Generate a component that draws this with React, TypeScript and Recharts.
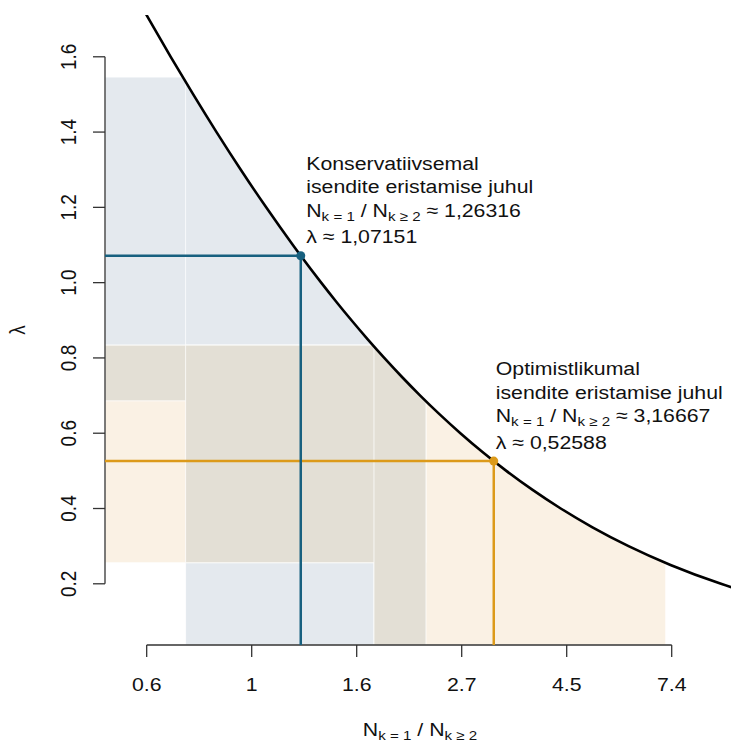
import {
  ComposedChart,
  Line,
  Area,
  XAxis,
  YAxis,
  ReferenceArea,
  ReferenceLine,
  ReferenceDot,
} from 'recharts';

// curve: lambda vs N(k=1)/N(k>=2)
const ratioValues = [
  0.5824, 0.6129, 0.68, 0.7569, 0.8458, 0.9494, 1.0713, 1.2166, 1.3922, 1.4944,
  1.6083, 1.7359, 1.88, 2.0436, 2.2311, 2.4478, 2.7013, 3.0013, 3.362, 3.8035,
  4.3561, 5.0675, 6.017, 7.3475, 9.3445, 10.455,
];
const lambdaValues = [
  1.75, 1.7, 1.6, 1.5, 1.4, 1.3, 1.2, 1.1, 1.0, 0.95,
  0.9, 0.85, 0.8, 0.75, 0.7, 0.65, 0.6, 0.55, 0.5, 0.45,
  0.4, 0.35, 0.3, 0.25, 0.2, 0.18,
];

// the two scenarios
const scenarioNames = ['Konservatiivsemal', 'Optimistlikumal'];
const scenarioRatios = [1.26316, 3.16667];
const scenarioLambdas = [1.07151, 0.52588];
const ratioLow = [0.73, 1.79];
const ratioHigh = [2.293, 7.18];
const lambdaLow = [0.686, 0.256];
const lambdaHigh = [1.546, 0.834];
const lineColors = ['#17607f', '#dc9a1a'];
const bandColors = ['#e4e9ee', '#faf1e4'];
const overlapColor = '#e3dfd5';

// axes
const xTickValues = [0.6065, 1, 1.6487, 2.7183, 4.4817, 7.3891];
const xTickLabels = ['0.6', '1', '1.6', '2.7', '4.5', '7.4'];
const yTickValues = [0.2, 0.4, 0.6, 0.8, 1.0, 1.2, 1.4, 1.6];
const yTickLabels = ['0.2', '0.4', '0.6', '0.8', '1.0', '1.2', '1.4', '1.6'];

const xMin = 0.4973;
const xMax = 9.8;
const yMin = 0.0374;
const yMax = 1.711;

const FONT = '"Liberation Sans", Arial, Helvetica, sans-serif';
const FS = 19;
const SUB = 13.5;
const SX = 1.12;
const AXIS = '#333';

const curveData = ratioValues.map((r, i) => ({ ratio: r, lambda: lambdaValues[i] }));

const fmt = (v: number) => v.toFixed(5).replace('.', ',');

const XTick = (props: any) => {
  const { x, y, payload } = props;
  const i = xTickValues.indexOf(payload.value);
  return (
    <g transform={`translate(${x},${y + 33.5}) scale(${SX},1)`}>
      <text x={0} y={0} textAnchor="middle" fontSize={FS} fontFamily={FONT} fill="#111">
        {xTickLabels[i]}
      </text>
    </g>
  );
};

const YTick = (props: any) => {
  const { x, y, payload } = props;
  const i = yTickValues.indexOf(payload.value);
  return (
    <g transform={`translate(${x - 17},${y}) scale(${SX},1) rotate(-90)`}>
      <text x={0} y={0} textAnchor="middle" fontSize={FS} fontFamily={FONT} fill="#111">
        {yTickLabels[i]}
      </text>
    </g>
  );
};

const XTitle = (props: any) => {
  const vb = props.viewBox;
  const cx = vb.x + vb.width / 2;
  return (
    <g transform={`translate(${cx + 2},${vb.y + 91}) scale(${SX},1)`}>
      <text x={0} y={0} textAnchor="middle" fontSize={FS} fontFamily={FONT} fill="#111">
        <tspan>N</tspan>
        <tspan fontSize={SUB} dy={4}>k = 1</tspan>
        <tspan dy={-4}> / N</tspan>
        <tspan fontSize={SUB} dy={4}>k ≥ 2</tspan>
      </text>
    </g>
  );
};

const YTitle = (props: any) => {
  const vb = props.viewBox;
  const cy = vb.y + vb.height / 2;
  return (
    <g transform={`translate(25,${cy}) scale(${SX},1) rotate(-90)`}>
      <text x={0} y={0} textAnchor="middle" fontSize={FS} fontFamily={FONT} fill="#111">
        λ
      </text>
    </g>
  );
};

const lineOffsets = [-86, -62.5, -39, -12.5];
const textDx = [5.5, 2];

const Annotation = (props: any) => {
  const { viewBox, index } = props;
  const cx = viewBox.x + viewBox.width / 2;
  const cy = viewBox.y + viewBox.height / 2;
  const left = cx + textDx[index];
  const common = { x: 0, y: 0, fontSize: FS, fontFamily: FONT, fill: '#111' };
  return (
    <g>
      <g transform={`translate(${left},${cy + lineOffsets[0]}) scale(${SX},1)`}>
        <text {...common}>{scenarioNames[index]}</text>
      </g>
      <g transform={`translate(${left},${cy + lineOffsets[1]}) scale(${SX},1)`}>
        <text {...common}>isendite eristamise juhul</text>
      </g>
      <g transform={`translate(${left},${cy + lineOffsets[2]}) scale(${SX},1)`}>
        <text {...common}>
          <tspan>N</tspan>
          <tspan fontSize={SUB} dy={4}>k = 1</tspan>
          <tspan dy={-4}> / N</tspan>
          <tspan fontSize={SUB} dy={4}>k ≥ 2</tspan>
          <tspan dy={-4}> ≈ {fmt(scenarioRatios[index])}</tspan>
        </text>
      </g>
      <g transform={`translate(${left},${cy + lineOffsets[3]}) scale(${SX},1)`}>
        <text {...common}>λ ≈ {fmt(scenarioLambdas[index])}</text>
      </g>
    </g>
  );
};

type Rect = { x1: number; x2: number; y1: number; y2: number };

// each scenario: horizontal band (lambda interval) and vertical band (ratio interval)
const bandRects = (i: number): Rect[] => [
  { x1: xMin, x2: xMax, y1: lambdaLow[i], y2: lambdaHigh[i] },
  { x1: ratioLow[i], x2: ratioHigh[i], y1: yMin, y2: yMax },
];

const intersect = (a: Rect, b: Rect): Rect | null => {
  const r = {
    x1: Math.max(a.x1, b.x1),
    x2: Math.min(a.x2, b.x2),
    y1: Math.max(a.y1, b.y1),
    y2: Math.min(a.y2, b.y2),
  };
  return r.x1 < r.x2 && r.y1 < r.y2 ? r : null;
};

const overlapRects: Rect[] = [];
bandRects(0).forEach((a) =>
  bandRects(1).forEach((b) => {
    const r = intersect(a, b);
    if (r) overlapRects.push(r);
  })
);

const seam = { stroke: '#ffffff', strokeWidth: 1, strokeOpacity: 0.75 };

export default function App() {
  return (
    <div style={{ position: 'absolute', left: 0, top: 0, width: 731, height: 742, background: '#fff' }}>
      <ComposedChart
        width={731}
        height={742}
        data={curveData}
        margin={{ top: 15, right: 0, bottom: 0, left: 0 }}
      >
        <XAxis
          dataKey="ratio"
          type="number"
          scale="log"
          domain={[xMin, xMax]}
          allowDataOverflow
          ticks={xTickValues}
          interval={0}
          tick={<XTick />}
          tickSize={12}
          tickMargin={0}
          tickLine={{ stroke: AXIS, strokeWidth: 1.3 }}
          axisLine={false}
          height={97}
          label={<XTitle />}
        />
        <YAxis
          type="number"
          domain={[yMin, yMax]}
          allowDataOverflow
          ticks={yTickValues}
          interval={0}
          tick={<YTick />}
          tickSize={12}
          tickMargin={0}
          tickLine={{ stroke: AXIS, strokeWidth: 1.3 }}
          axisLine={false}
          width={105}
          label={<YTitle />}
        />

        {[0, 1].map((i) =>
          bandRects(i).map((r, j) => (
            <ReferenceArea
              key={`band-${i}-${j}`}
              x1={r.x1}
              x2={r.x2}
              y1={r.y1}
              y2={r.y2}
              fill={bandColors[i]}
              fillOpacity={1}
              {...seam}
            />
          ))
        )}
        {overlapRects.map((r, j) => (
          <ReferenceArea
            key={`ov-${j}`}
            x1={r.x1}
            x2={r.x2}
            y1={r.y1}
            y2={r.y2}
            fill={overlapColor}
            fillOpacity={1}
            {...seam}
          />
        ))}

        {/* white above the curve */}
        <Area
          dataKey={(d: any) => [d.lambda, yMax]}
          type="monotone"
          fill="#ffffff"
          fillOpacity={1}
          stroke="none"
          activeDot={false}
          isAnimationActive={false}
        />

        {/* R-style axis lines, only between first and last tick */}
        <ReferenceLine
          segment={[{ x: xMin, y: yTickValues[0] }, { x: xMin, y: yTickValues[yTickValues.length - 1] }]}
          stroke={AXIS}
          strokeWidth={1.3}
          ifOverflow="visible"
        />
        <ReferenceLine
          segment={[{ x: xTickValues[0], y: yMin }, { x: xTickValues[xTickValues.length - 1], y: yMin }]}
          stroke={AXIS}
          strokeWidth={1.3}
          ifOverflow="visible"
        />

        {[0, 1].map((i) => (
          <ReferenceLine
            key={`h-${i}`}
            segment={[{ x: xMin, y: scenarioLambdas[i] }, { x: scenarioRatios[i], y: scenarioLambdas[i] }]}
            stroke={lineColors[i]}
            strokeWidth={2.5}
            ifOverflow="visible"
          />
        ))}
        {[0, 1].map((i) => (
          <ReferenceLine
            key={`v-${i}`}
            segment={[{ x: scenarioRatios[i], y: yMin }, { x: scenarioRatios[i], y: scenarioLambdas[i] }]}
            stroke={lineColors[i]}
            strokeWidth={2.5}
            ifOverflow="visible"
          />
        ))}

        <Line
          dataKey="lambda"
          type="monotone"
          stroke="#000"
          strokeWidth={2.6}
          dot={false}
          activeDot={false}
          isAnimationActive={false}
        />

        {[0, 1].map((i) => (
          <ReferenceDot
            key={`pt-${i}`}
            x={scenarioRatios[i]}
            y={scenarioLambdas[i]}
            r={4.5}
            fill={lineColors[i]}
            stroke="none"
            ifOverflow="visible"
            label={<Annotation index={i} />}
          />
        ))}
      </ComposedChart>
    </div>
  );
}
